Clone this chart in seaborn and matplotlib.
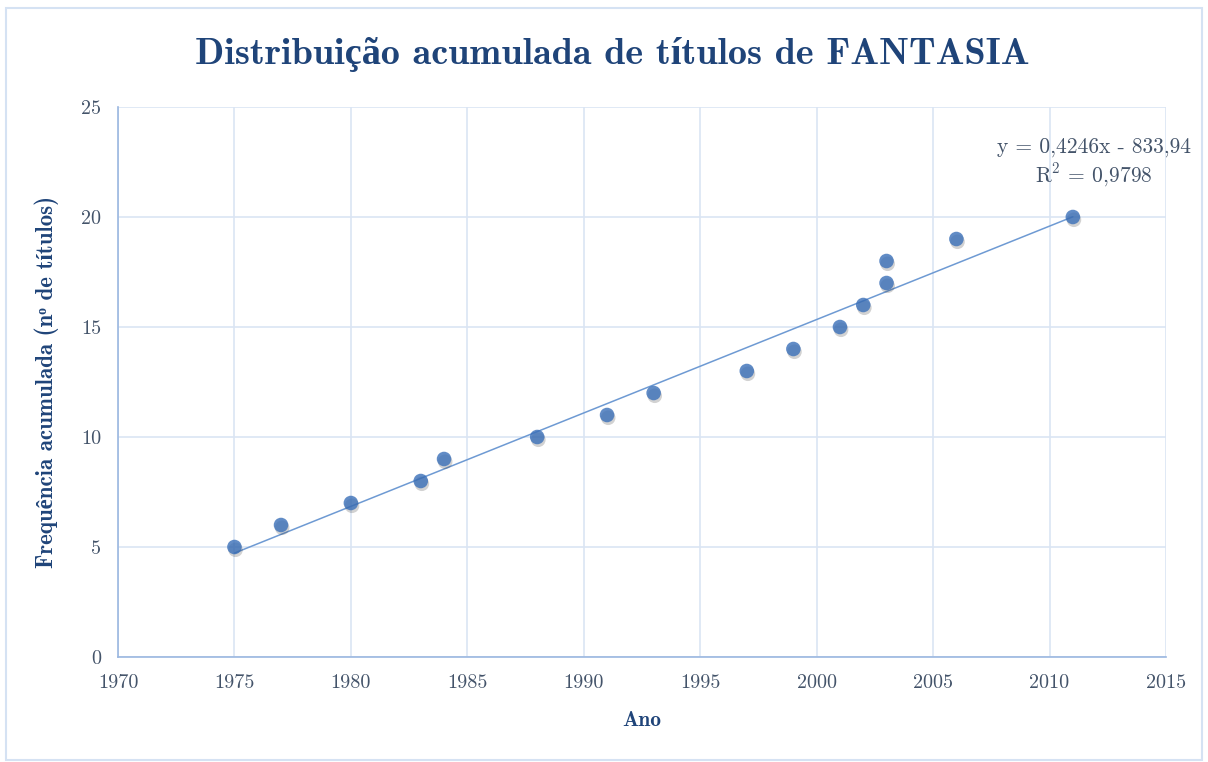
"""
Cumulative FANTASIA titles per year, with linear trend (Excel-like look).
"""

import matplotlib
matplotlib.use("Agg")
import matplotlib.pyplot as plt
import matplotlib.patheffects as pe
import numpy as np
import pandas as pd
import seaborn as sns

# data
anos = [1975, 1977, 1980, 1983, 1984, 1988, 1991, 1993, 1997, 1999,
        2001, 2002, 2003, 2003, 2006, 2011]
freq_acum = [5, 6, 7, 8, 9, 10, 11, 12, 13, 14, 15, 16, 17, 18, 19, 20]
x_ticks = [1970, 1975, 1980, 1985, 1990, 1995, 2000, 2005, 2010, 2015]
y_ticks = [0, 5, 10, 15, 20, 25]
equacao = "y = 0,4246x - 833,94"
r2_txt = r"R$^2$ = 0,9798"

TITLE_C = "#1F4479"
TICK_C = "#44546A"
GRID_C = "#DAE5F3"
SPINE_C = "#9BB7E0"
DOT_C = "#3A6FB8"
LINE_C = "#6E9AD3"

sns.set_theme(style="white")
SERIF = ["cmr10", "Liberation Serif", "DejaVu Serif"]
SERIF_B = ["cmb10", "Liberation Serif", "DejaVu Serif"]
plt.rcParams["font.family"] = SERIF
plt.rcParams["mathtext.fontset"] = "cm"
plt.rcParams["axes.unicode_minus"] = False
plt.rcParams["axes.formatter.use_mathtext"] = False

df = pd.DataFrame({"ano": anos, "freq": freq_acum})

fig = plt.figure(figsize=(12.08, 7.62), dpi=100)
ax = fig.add_axes([118 / 1208, 1 - 657 / 762, (1166 - 118) / 1208, (657 - 107) / 762])

sns.regplot(data=df, x="ano", y="freq", ax=ax, ci=None,
            scatter_kws=dict(s=110, color=DOT_C, edgecolor="none", zorder=3,
                             path_effects=[pe.SimplePatchShadow(offset=(0.8, -2), alpha=0.22,
                                                                shadow_rgbFace="#333333"),
                                           pe.Normal()]),
            line_kws=dict(color=LINE_C, linewidth=1.1, zorder=2))

ax.set_xlim(1970, 2015)
ax.set_ylim(0, 25)
ax.set_xticks(x_ticks)
ax.set_yticks(y_ticks)
ax.set_xticklabels([str(t) for t in x_ticks])
ax.set_yticklabels([str(t) for t in y_ticks])
ax.grid(True, color=GRID_C, linewidth=1.2)
ax.set_axisbelow(True)
for side in ("top", "right"):
    ax.spines[side].set_visible(False)
for side in ("left", "bottom"):
    ax.spines[side].set_color(SPINE_C)
    ax.spines[side].set_linewidth(1.2)
ax.tick_params(axis="both", length=0, labelsize=14.5, labelcolor=TICK_C, pad=12)

ax.set_xlabel("Ano", fontsize=15.5, color=TITLE_C, family=SERIF_B, fontweight="bold", labelpad=14)
# modifier letter small o (U+1D52) for the ordinal, cmr/cmb fonts remap "º"
ax.set_ylabel("Frequência acumulada (n\u1d52 de títulos)", fontsize=16.5, color=TITLE_C,
              family=SERIF_B, fontweight="bold", labelpad=16)

fig.text(0.507, 1 - 55 / 762, "Distribuição acumulada de títulos de FANTASIA",
         ha="center", va="center", fontsize=27.5, color=TITLE_C, family=SERIF_B,
         fontweight="bold")

ax.text(2011.9, 23.15, equacao, fontsize=15.5, color=TICK_C, ha="center", va="center")
ax.text(2011.9, 21.9, r2_txt, fontsize=15.5, color=TICK_C, ha="center", va="center")

# outer chart border
fig.patches.append(plt.Rectangle((6 / 1208, 2 / 762), 1196 / 1208, 752 / 762,
                                 transform=fig.transFigure, fill=False,
                                 edgecolor="#D5E2F3", linewidth=1.5))

fig.savefig("out.png", dpi=100, facecolor="white")
